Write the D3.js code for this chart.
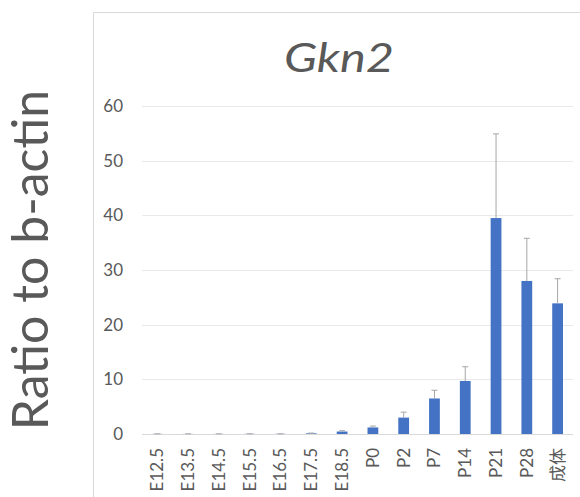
<!DOCTYPE html>
<html>
<head>
<meta charset="utf-8">
<script src="https://cdn.jsdelivr.net/npm/d3@7"></script>
<style>
  body { margin: 0; background: #fff; }
  text { font-family: Lato, "Noto Sans CJK SC", sans-serif; fill: #595959; }
</style>
</head>
<body>
<svg id="chart" width="580" height="497"></svg>
<script>
var categories = ["E12.5", "E13.5", "E14.5", "E15.5", "E16.5", "E17.5", "E18.5", "P0", "P2", "P7", "P14", "P21", "P28", "成体"];
var values = [0.02, 0.02, 0.02, 0.03, 0.03, 0.12, 0.45, 1.2, 3.0, 6.5, 9.7, 39.5, 28.0, 23.9];
var errors = [0.01, 0.01, 0.01, 0.01, 0.01, 0.05, 0.15, 0.25, 1.0, 1.5, 2.6, 15.4, 7.8, 4.5];
var yTicks = [0, 10, 20, 30, 40, 50, 60];

var svg = d3.select("#chart"),
  width = +svg.attr("width"),
  height = +svg.attr("height");

// chart frame (runs off the right edge like the original)
svg.append("path")
  .attr("d", "M93.5,600V12.5H620")
  .attr("fill", "none")
  .attr("stroke", "#d9d9d9");

var x = d3.scaleBand()
  .domain(categories)
  .range([142, 573])
  .paddingInner(0.65)
  .paddingOuter(0.325);

var y = d3.scaleLinear()
  .domain([0, 60])
  .range([434, 106]);

// gridlines
svg.append("g")
  .selectAll("line")
  .data(yTicks)
  .enter().append("line")
    .attr("x1", 142)
    .attr("x2", 573)
    .attr("y1", function(d) { return Math.round(y(d)) + 0.5; })
    .attr("y2", function(d) { return Math.round(y(d)) + 0.5; })
    .attr("stroke", function(d) { return d == 0 ? "#d9d9d9" : "#e9e9e9"; })
    .attr("stroke-width", 1.2);

// y tick labels
var yAxis = d3.axisLeft(y).tickValues(yTicks).tickSize(0).tickPadding(0);
var gy = svg.append("g")
  .attr("transform", "translate(123,0)")
  .call(yAxis);
gy.select(".domain").remove();
gy.selectAll("text")
  .attr("font-size", 17)
  .attr("font-family", "Lato, sans-serif")
  .attr("fill", "#777");

// x labels, rotated
var xAxis = d3.axisBottom(x).tickSize(0).tickPadding(0);
var gx = svg.append("g")
  .attr("transform", "translate(0,448)")
  .call(xAxis);
gx.select(".domain").remove();
gx.selectAll("text")
  .attr("font-size", 17)
  .attr("font-family", "Lato, 'Noto Sans CJK SC', sans-serif")
  .attr("fill", "#777")
  .attr("text-anchor", "end")
  .attr("dy", "0.35em")
  .attr("transform", "rotate(-90)")
  .attr("x", 0)
  .attr("y", 0);

// bars
svg.append("g")
  .selectAll("rect")
  .data(values)
  .enter().append("rect")
    .attr("x", function(d, i) { return x(categories[i]); })
    .attr("width", x.bandwidth())
    .attr("y", function(d) { return y(d); })
    .attr("height", function(d) { return y(0) - y(d); })
    .attr("fill", "#4472c4");

// error bars (upper only)
var eb = svg.append("g")
  .attr("stroke", "#a6a6a6")
  .attr("stroke-width", 1);
eb.selectAll("line.v")
  .data(values)
  .enter().append("line")
    .attr("class", "v")
    .attr("x1", function(d, i) { return x(categories[i]) + x.bandwidth() / 2; })
    .attr("x2", function(d, i) { return x(categories[i]) + x.bandwidth() / 2; })
    .attr("y1", function(d) { return y(d); })
    .attr("y2", function(d, i) { return y(d + errors[i]); });
eb.selectAll("line.c")
  .data(values)
  .enter().append("line")
    .attr("class", "c")
    .attr("x1", function(d, i) { return x(categories[i]) + x.bandwidth() / 2 - 3; })
    .attr("x2", function(d, i) { return x(categories[i]) + x.bandwidth() / 2 + 3; })
    .attr("y1", function(d, i) { return y(d + errors[i]); })
    .attr("y2", function(d, i) { return y(d + errors[i]); });

// title
svg.append("text")
  .attr("x", 339)
  .attr("y", 72)
  .attr("text-anchor", "middle")
  .attr("font-size", 40)
  .attr("font-style", "italic")
  .attr("fill", "#595959")
  .attr("textLength", 110)
  .attr("lengthAdjust", "spacingAndGlyphs")
  .text("Gkn2");

// y axis title
svg.append("text")
  .attr("transform", "translate(48,260) rotate(-90)")
  .attr("text-anchor", "middle")
  .attr("font-size", 50)
  .attr("fill", "#404040")
  .text("Ratio to b-actin");
</script>
</body>
</html>
